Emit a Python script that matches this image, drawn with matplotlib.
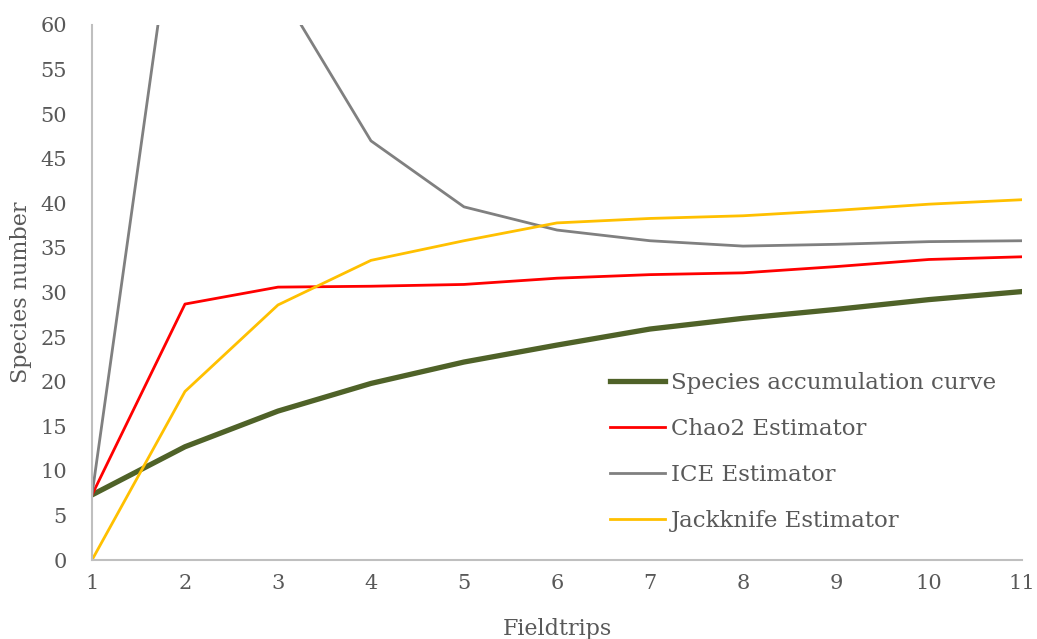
import matplotlib.pyplot as plt

# Data
fieldtrips = [1, 2, 3, 4, 5, 6, 7, 8, 9, 10, 11]
accumulation = [7.3, 12.7, 16.7, 19.8, 22.2, 24.1, 25.9, 27.1, 28.1, 29.2, 30.1]
chao2 = [7.3, 28.7, 30.6, 30.7, 30.9, 31.6, 32.0, 32.2, 32.9, 33.7, 34.0]
ice = [7.3, 81.6, 64.3, 47.0, 39.6, 37.0, 35.8, 35.2, 35.4, 35.7, 35.8]
jackknife = [0.0, 18.9, 28.6, 33.6, 35.8, 37.8, 38.3, 38.6, 39.2, 39.9, 40.4]

plt.rcParams['font.family'] = ['DejaVu Serif']
text_col = '#595959'

fig = plt.figure(figsize=(10.37, 6.39), dpi=100)
ax = fig.add_axes([0.0887, 0.1236, 0.8968, 0.8374])

ax.plot(fieldtrips, accumulation, color='#4f6228', lw=3.8, label='Species accumulation curve')
ax.plot(fieldtrips, chao2, color='#ff0000', lw=2.0, label='Chao2 Estimator')
ax.plot(fieldtrips, ice, color='#808080', lw=2.0, label='ICE Estimator')
ax.plot(fieldtrips, jackknife, color='#ffc000', lw=2.0, label='Jackknife Estimator')

ax.set_xlim(1, 11)
ax.set_ylim(0, 60)
ax.set_xticks(fieldtrips)
ax.set_yticks(range(0, 61, 5))
ax.tick_params(axis='x', length=0, labelsize=15, colors=text_col, pad=10)
ax.tick_params(axis='y', length=0, labelsize=15, colors=text_col, pad=18)

for side in ['top', 'right']:
    ax.spines[side].set_visible(False)
for side in ['left', 'bottom']:
    ax.spines[side].set_color('#bfbfbf')
    ax.spines[side].set_linewidth(1.5)

ax.set_xlabel('Fieldtrips', fontsize=16, color=text_col, labelpad=18)
ax.set_ylabel('Species number', fontsize=16, color=text_col, labelpad=6)

ax.legend(loc='upper left', bbox_to_anchor=(0.535, 0.39), frameon=False,
          fontsize=16.5, labelcolor=text_col, handlelength=2.4, handletextpad=0.25,
          labelspacing=1.05)

plt.savefig('out.png', dpi=100)
